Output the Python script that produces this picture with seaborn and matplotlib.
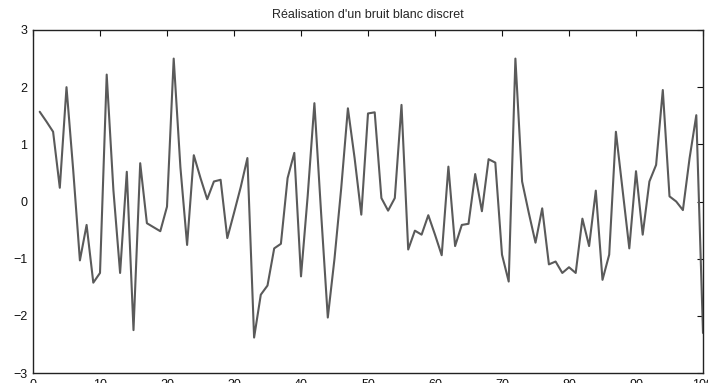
import seaborn as sns
import matplotlib.pyplot as plt
import pandas as pd
import numpy as np

# valeurs (bruit blanc, 100 echantillons)
n = list(range(1, 101))
valeurs = [
    1.57, 1.40, 1.22, 0.24, 2.00, 0.55, -1.03, -0.41, -1.42, -1.25,
    2.22, 0.20, -1.25, 0.52, -2.25, 0.67, -0.38, -0.45, -0.52, -0.09,
    2.50, 0.60, -0.76, 0.81, 0.41, 0.04, 0.35, 0.38, -0.64, -0.20,
    0.25, 0.76, -2.38, -1.63, -1.47, -0.82, -0.74, 0.41, 0.85, -1.31,
    0.10, 1.72, -0.20, -2.03, -1.00, 0.23, 1.63, 0.76, -0.23, 1.54,
    1.56, 0.06, -0.16, 0.06, 1.69, -0.84, -0.51, -0.58, -0.24, -0.58,
    -0.94, 0.61, -0.78, -0.41, -0.39, 0.48, -0.17, 0.74, 0.68, -0.93,
    -1.40, 2.50, 0.35, -0.20, -0.72, -0.12, -1.10, -1.05, -1.25, -1.15,
    -1.25, -0.30, -0.78, 0.19, -1.37, -0.93, 1.22, 0.20, -0.82, 0.53,
    -0.58, 0.35, 0.64, 1.95, 0.09, 0.00, -0.15, 0.76, 1.51, -2.30,
]
xticks = list(range(0, 101, 10))
yticks = [-3, -2, -1, 0, 1, 2, 3]

df = pd.DataFrame({'n': n, 'x': valeurs})

sns.set_style("white")
plt.rcParams['font.family'] = ['Liberation Sans', 'DejaVu Sans']
plt.rcParams['axes.unicode_minus'] = True

fig = plt.figure(figsize=(7.08, 3.83), dpi=100)
ax = fig.add_axes([33/708, 1 - 373/383, 670/708, 343/383])

sns.lineplot(data=df, x='n', y='x', ax=ax, color='#5a5a5a', linewidth=1.5)

ax.set_xlim(0, 100)
ax.set_ylim(-3, 3)
ax.set_xticks(xticks)
ax.set_yticks(yticks)
ax.tick_params(direction='in', length=4, width=0.8, top=True, right=True,
               labelsize=9, colors='#111111', pad=4)
for s in ax.spines.values():
    s.set_visible(True)
    s.set_color('#222222')
    s.set_linewidth(1.0)
ax.set_xlabel('')
ax.set_ylabel('')
ax.set_title("Réalisation d'un bruit blanc discret", fontsize=9, pad=9)

fig.savefig('out.png', dpi=100)
